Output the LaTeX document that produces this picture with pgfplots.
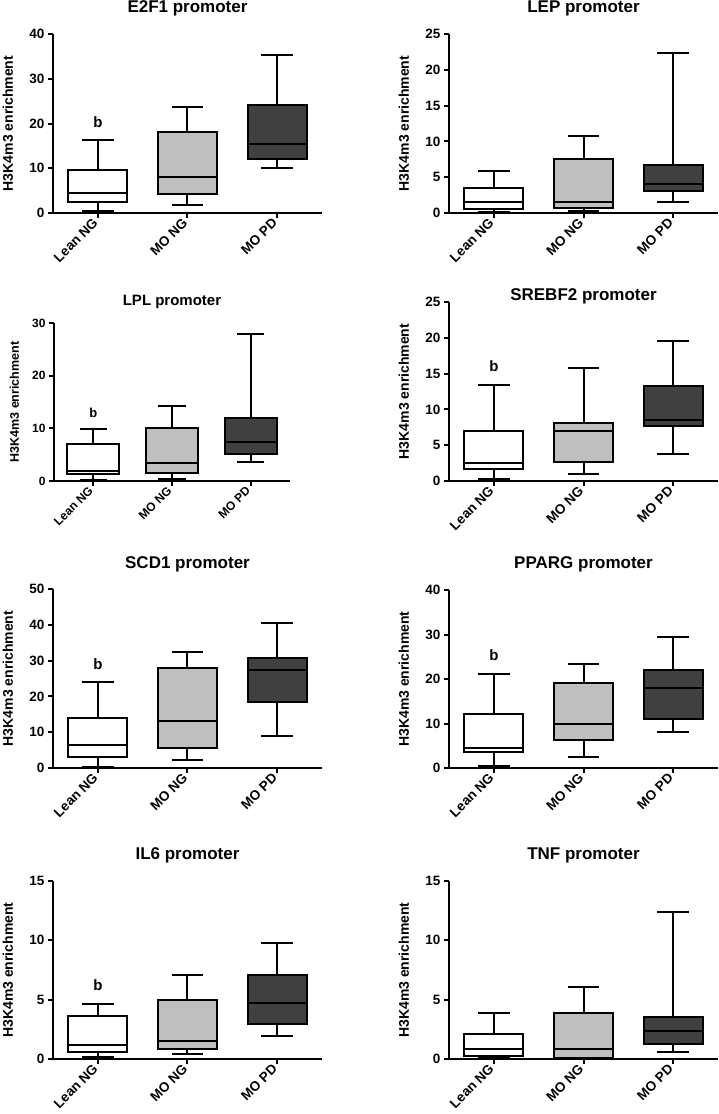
\documentclass[border=0pt]{standalone}
\usepackage{fontspec}
\setmainfont{Liberation Sans}
\usepackage{pgfplots}
\pgfplotsset{compat=1.18}
\usepgfplotslibrary{statistics}
\definecolor{lg}{RGB}{191,191,191}
\definecolor{dg}{RGB}{64,64,64}

\pgfplotsset{
  panel/.style={
    scale only axis, anchor=south west,
    xmin=-0.5, xmax=2.5, ymin=0,
    axis x line=bottom, axis y line=left,
    axis line style={-, line width=2pt},
    xtick={0,1,2}, xticklabels={Lean NG, MO NG, MO PD},
    tick align=outside, major tick length=5pt,
    tick style={line width=2pt, black},
    minor tick num=0,
    /pgf/number format/assume math mode=true,
    yticklabel style={font=\fontsize{13.5}{14}\selectfont\bfseries},
    xticklabel style={rotate=45, anchor=east, font=\fontsize{13.5}{14}\selectfont\bfseries},
    ylabel={H3K4m3 enrichment},
    every axis y label/.style={at={(axis description cs:-0.168,0.5)}, rotate=90, anchor=center, font=\fontsize{14}{16}\selectfont\bfseries},
    every axis title/.style={at={(axis description cs:0.5,1)}, anchor=base, font=\fontsize{17}{19}\selectfont\bfseries},
    clip=false,
    boxplot/draw direction=y,
    boxplot/box extend=0.66,
    boxplot/whisker extend=0.35,
  },
  small/.style={
    yticklabel style={font=\fontsize{12}{13}\selectfont\bfseries},
    xticklabel style={font=\fontsize{12}{13}\selectfont\bfseries},
    every axis y label/.append style={font=\fontsize{12.5}{14}\selectfont\bfseries},
    title style={font=\fontsize{15}{17}\selectfont\bfseries},
    axis line style={line width=1.8pt},
    tick style={line width=1.8pt},
  }
}
% position, min, q1, median, q3, max, fill
\newcommand{\bx}[7]{\addplot[boxplot prepared={draw position=#1, lower whisker=#2, lower quartile=#3, median=#4, upper quartile=#5, upper whisker=#6}, draw=black, fill=#7, line width=2pt, solid] coordinates {};}
\newcommand{\bmark}[2][15]{\node[anchor=base, font=\fontsize{#1}{#1}\selectfont\bfseries] at (axis cs:0,#2) {b};}

\begin{document}
\begin{tikzpicture}
\path[use as bounding box] (0,0) rectangle (718pt,-1114pt);

% E2F1
\begin{axis}[panel, at={(53pt,-213pt)}, width=269pt, height=179pt,
  ymax=40, ytick={0,10,20,30,40}, title={E2F1 promoter}, title style={yshift=21.3pt}]
\bx{0}{0.4}{2.4}{4.4}{9.5}{16.3}{white}
\bx{1}{1.9}{4.3}{8.1}{18.1}{23.6}{lg}
\bx{2}{10.0}{12.1}{15.5}{24.1}{35.2}{dg}
\bmark{19.0}
\end{axis}

% LEP
\begin{axis}[panel, at={(449pt,-213pt)}, width=269pt, height=179pt,
  ymax=25, ytick={0,5,10,15,20,25}, title={LEP promoter}, title style={yshift=21.3pt}]
\bx{0}{0.2}{0.6}{1.6}{3.5}{5.9}{white}
\bx{1}{0.23}{0.75}{1.5}{7.6}{10.8}{lg}
\bx{2}{1.5}{3.1}{4.05}{6.7}{22.3}{dg}
\end{axis}

% LPL
\begin{axis}[panel, small, at={(54pt,-481pt)}, width=236pt, height=158pt,
  ymax=30, ytick={0,10,20,30}, title={LPL promoter}, title style={yshift=18pt}]
\bx{0}{0.2}{1.27}{1.84}{7.0}{9.9}{white}
\bx{1}{0.38}{1.46}{3.4}{10.1}{14.2}{lg}
\bx{2}{3.6}{5.1}{7.5}{11.9}{28.0}{dg}
\bmark[13]{12.1}
\end{axis}

% SREBF2
\begin{axis}[panel, at={(449pt,-481pt)}, width=269pt, height=179pt,
  ymax=25, ytick={0,5,10,15,20,25}, title={SREBF2 promoter}, title style={yshift=1.3pt}]
\bx{0}{0.23}{1.63}{2.57}{6.95}{13.4}{white}
\bx{1}{1.03}{2.66}{7.0}{8.16}{15.8}{lg}
\bx{2}{3.8}{7.7}{8.5}{13.2}{19.6}{dg}
\bmark{15.3}
\end{axis}

% SCD1
\begin{axis}[panel, at={(53pt,-768pt)}, width=269pt, height=179pt,
  ymax=50, ytick={0,10,20,30,40,50}, title={SCD1 promoter}, title style={yshift=20.7pt}]
\bx{0}{0.3}{3.1}{6.3}{13.9}{24.0}{white}
\bx{1}{2.1}{5.7}{13.1}{27.9}{32.3}{lg}
\bx{2}{8.9}{18.3}{27.3}{30.8}{40.4}{dg}
\bmark{27.4}
\end{axis}

% PPARG
\begin{axis}[panel, at={(449pt,-768pt)}, width=269pt, height=178pt,
  ymax=40, ytick={0,10,20,30,40}, title={PPARG promoter}, title style={yshift=21.7pt}]
\bx{0}{0.37}{3.5}{4.6}{12.2}{21.1}{white}
\bx{1}{2.5}{6.2}{9.9}{19.1}{23.4}{lg}
\bx{2}{8.15}{11.1}{18.0}{22.1}{29.5}{dg}
\bmark{24.1}
\end{axis}

% IL6
\begin{axis}[panel, at={(53pt,-1059pt)}, width=269pt, height=178pt,
  ymax=15, ytick={0,5,10,15}, title={IL6 promoter}, title style={yshift=22pt}]
\bx{0}{0.17}{0.62}{1.2}{3.6}{4.66}{white}
\bx{1}{0.39}{0.81}{1.55}{4.97}{7.05}{lg}
\bx{2}{1.97}{2.92}{4.75}{7.1}{9.78}{dg}
\bmark{5.8}
\end{axis}

% TNF
\begin{axis}[panel, at={(449pt,-1059pt)}, width=269pt, height=178pt,
  ymax=15, ytick={0,5,10,15}, title={TNF promoter}, title style={yshift=22pt}]
\bx{0}{0.08}{0.22}{0.81}{2.13}{3.9}{white}
\bx{1}{0.03}{0.08}{0.87}{3.88}{6.1}{lg}
\bx{2}{0.62}{1.29}{2.33}{3.57}{12.36}{dg}
\end{axis}
\end{tikzpicture}
\end{document}
